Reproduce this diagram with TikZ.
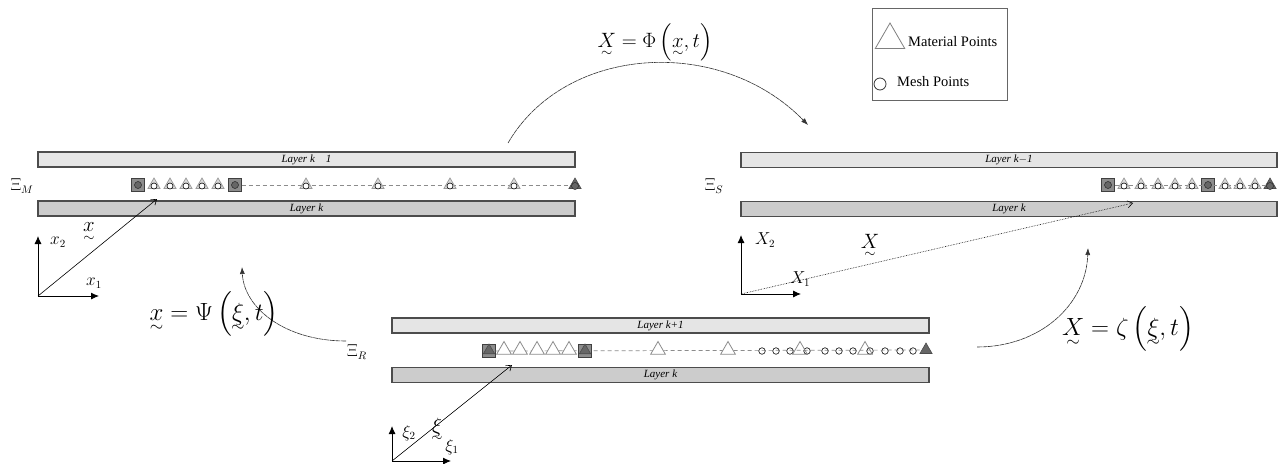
\documentclass[tikz,border=0pt]{standalone}
\usepackage{amsmath}
\usepackage{fontspec}
\setmainfont{Liberation Serif}
\usetikzlibrary{shapes.geometric,arrows.meta}
\newcommand\tl[1]{\mathord{\ooalign{$#1$\cr\hidewidth\raisebox{-0.47em}{$\scriptstyle\sim$}\hidewidth\cr}}}
\begin{document}
\begin{tikzpicture}[x=1pt,y=-1pt,
  barlight/.style={draw=black!70, fill=black!10, line width=1.1pt, inner sep=0pt, minimum height=15pt, font=\fontsize{11}{11}\selectfont\itshape},
  bardark/.style={barlight, fill=black!20},
  mtri/.style={regular polygon, regular polygon sides=3, draw=black!40, fill=black!15, line width=0.7pt, minimum size=14pt, inner sep=0pt},
  mcirc/.style={circle, draw=black, fill=white, line width=0.6pt, minimum size=6pt, inner sep=0pt},
  mbox/.style={rectangle, draw=black!75, fill=black!45, line width=0.9pt, minimum size=12.5pt, inner sep=0pt},
  dcirc/.style={circle, draw=black!85, fill=black!60, line width=0.5pt, minimum size=7pt, inner sep=0pt},
  ftri/.style={regular polygon, regular polygon sides=3, draw=black!70, fill=black!60, line width=0.6pt, minimum size=14pt, inner sep=0pt},
  otri/.style={regular polygon, regular polygon sides=3, draw=black!45, fill=white, line width=0.8pt, minimum size=17pt, inner sep=0pt},
  meshc/.style={circle, draw=black!85, line width=0.7pt, minimum size=6.5pt, inner sep=0pt},
  rowdash/.style={draw=black!45, line width=0.7pt, dash pattern=on 4pt off 3pt},
  axis/.style={line width=0.9pt, -{Latex[length=8pt,width=7pt]}},
  vec/.style={line width=0.6pt, -{Straight Barb[length=5pt,width=7pt]}},
  maparc/.style={draw=black!80, line width=0.6pt, dash pattern=on 5pt off 0.6pt, -{Latex[length=7pt,width=5pt]}},
  lab/.style={font=\fontsize{16}{18}\selectfont, inner sep=0pt},
  xil/.style={font=\fontsize{16}{18}\selectfont, inner sep=0pt},
  eq/.style={font=\fontsize{20}{22}\selectfont, inner sep=0pt},
  eqb/.style={font=\fontsize{23}{26}\selectfont, inner sep=0pt},
  legtext/.style={font=\fontsize{14.5}{16}\selectfont, inner sep=0pt, anchor=west}
]
\useasboundingbox[fill=white] (0,0) rectangle (1284,463);

% ===== Panel M =====
\node[barlight, minimum width=537pt] (mtop) at (306.5,159.5) {Layer k\quad 1};
\node[bardark, minimum width=537pt] (mbot) at (306.5,208.5) {Layer k};
\node[xil] (XiM) at (22,186) {$\Xi_M$};
\node[mbox] (mb1) at (138,185) {};
\node[mbox] (mb2) at (235,185) {};
\node[ftri] (mf) at (575,185) {};
\draw[rowdash] (mb2) -- (mf);
\node[dcirc] at (mb1) {};
\node[dcirc] at (mb2) {};
\node[dcirc] at ([yshift=-1pt]mf.center) {};
\foreach \x [count=\i] in {154,170,186,202,218,306,378,450,514} {
  \node[mtri] (mt\i) at (\x,185) {};
  \node[mcirc] (mc\i) at (\x,186) {};
}
\coordinate (oM) at (38,296);
\coordinate (mx2) at (38,236);
\coordinate (mx1) at (99,296);
\coordinate (mv) at (157,199);
\draw[axis] (oM) -- (mx2);
\draw[axis] (oM) -- (mx1);
\draw[vec] (oM) -- (mv);
\node[lab] (lx2) at (58,242) {$x_2$};
\node[lab] (lx1) at (94,283) {$x_1$};
\node[eq] (lxv) at (89,232) {$\tl{x}$};

% ===== Panel S =====
\node[barlight, minimum width=536pt] (stop) at (1009,160) {Layer k$-$1};
\node[bardark, minimum width=536pt] (sbot) at (1009,209) {Layer k};
\node[xil] (XiS) at (714,186) {$\Xi_S$};
\node[mbox] (sb1) at (1108,185) {};
\node[mbox] (sb2) at (1208,185) {};
\node[ftri] (sf) at (1270,185) {};
\draw[rowdash] (sb1) -- (sf);
\node[dcirc] at (sb1) {};
\node[dcirc] at (sb2) {};
\node[dcirc] at ([yshift=-1pt]sf.center) {};
\foreach \x [count=\i] in {1124,1141,1158,1175,1192,1225,1240,1255} {
  \node[mtri] (st\i) at (\x,185) {};
  \node[mcirc] (sc\i) at (\x,186) {};
}
\coordinate (oS) at (741,294);
\coordinate (sx2) at (741,235);
\coordinate (sx1) at (801,294);
\coordinate (sv) at (1133,203);
\draw[axis] (oS) -- (sx2);
\draw[axis] (oS) -- (sx1);
\draw[vec, densely dotted] (oS) -- (sv);
\node[lab] (lX2) at (765,240) {$X_2$};
\node[lab] (lX1) at (800,279) {$X_1$};
\node[eq] (lXv) at (870,246) {$\tl{X}$};

% ===== Panel R =====
\node[barlight, minimum width=537pt] (rtop) at (660.5,325.5) {Layer k+1};
\node[bardark, minimum width=537pt] (rbot) at (660.5,375) {Layer k};
\node[xil] (XiR) at (357,352) {$\Xi_R$};
\node[mbox] (rb1) at (489,351) {};
\node[mbox] (rb2) at (585,351) {};
\node[ftri] (rf) at (926,350) {};
\draw[rowdash] (rb1) -- (rf);
\node[ftri, minimum size=13pt] at (489,350.5) {};
\node[ftri, minimum size=13pt] at (585,350.5) {};
\foreach \x [count=\i] in {504,520,537,553,569,658,728} {
  \node[otri] (rt\i) at (\x,350) {};
}
\foreach \x [count=\i] in {762,776,790,807,825,839,853,870,885,900,913} {
  \node[meshc] (rc\i) at (\x,351) {};
}
\node[otri, fill=none] (rt8) at (800,350) {};
\node[otri, fill=none] (rt9) at (865,350) {};
\coordinate (oR) at (392,461);
\coordinate (rx2) at (392,426);
\coordinate (rx1) at (451,461);
\coordinate (rv) at (512,365);
\draw[axis] (oR) -- (rx2);
\draw[axis] (oR) -- (rx1);
\draw[vec] (oR) -- (rv);
\node[lab] (lxi2) at (409,433) {$\xi_2$};
\node[lab] (lxi1) at (452,447) {$\xi_1$};
\node[eq] (lxiv) at (437,430) {$\tl{\xi}$};

% ===== Mapping arcs =====
\coordinate (phiS) at (508,143);
\coordinate (phiE) at (808,125);
\draw[maparc] (phiS) .. controls (565,45) and (720,35) .. (phiE);
\node[eq] (lphi) at (655,42) {$\tl{X}=\Phi\left(\tl{x},t\right)$};

\coordinate (psiS) at (346,341);
\coordinate (psiE) at (242,267);
\draw[maparc] (psiS) .. controls (285,341) and (244,308) .. (psiE);
\node[eqb] (lpsi) at (214,314) {$\tl{x}=\Psi\left(\tl{\xi},t\right)$};

\coordinate (zetS) at (977,347);
\coordinate (zetE) at (1088,248);
\draw[maparc] (zetS) .. controls (1040,347) and (1086,305) .. (zetE);
\node[eqb] (lzet) at (1128,329) {$\tl{X}=\zeta\left(\tl{\xi},t\right)$};

% ===== Legend =====
\node[draw=black!60, line width=0.8pt, minimum width=135pt, minimum height=92pt, inner sep=0pt] (leg) at (939.5,54) {};
\node[regular polygon, regular polygon sides=3, draw=black!50, line width=0.8pt, minimum size=34pt, inner sep=0pt] (legtri) at (890,40) {};
\node[legtext] (legt1) at (908,42) {Material Points};
\node[circle, draw=black!80, line width=0.8pt, minimum size=12pt, inner sep=0pt] (legc) at (880,84) {};
\node[legtext] (legt2) at (897,82) {Mesh Points};
\end{tikzpicture}
\end{document}
